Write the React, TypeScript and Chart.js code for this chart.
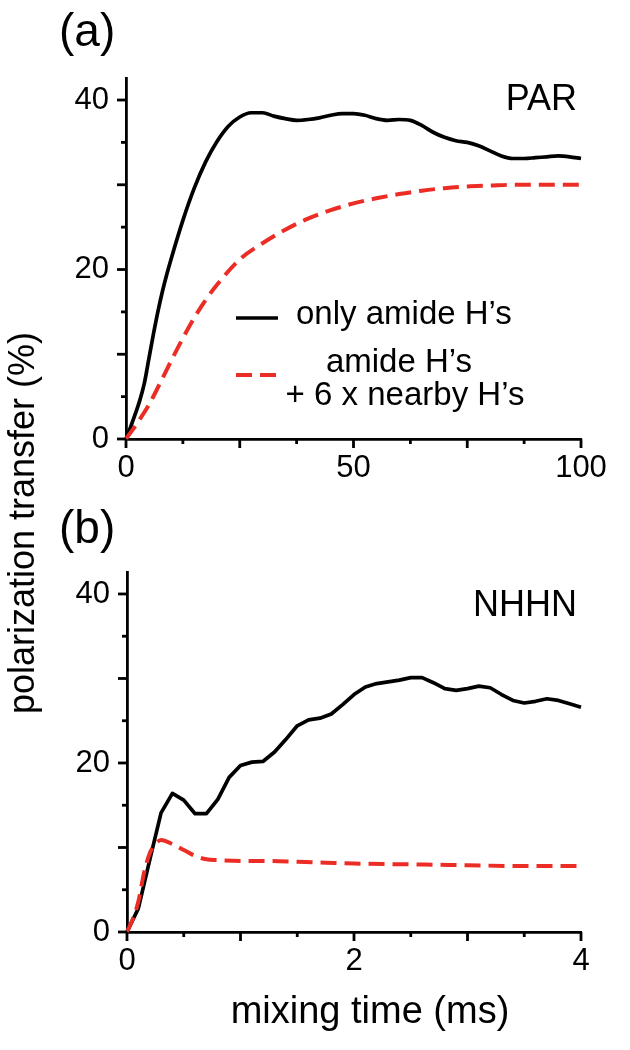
import React, { useEffect, useRef } from 'react';
import { Chart, registerables } from 'chart.js';

Chart.register(...registerables);

const FONT = "'Liberation Sans', Arial, Helvetica, sans-serif";
const RED = '#ec2d26';
const BLACK = '#000000';

// ---------- Panel (a): PAR ----------
const parTimeAmide = [0, 1, 2, 3, 4, 5, 6, 7, 8, 9, 10, 12.5, 15, 17.5, 20, 22.5, 25, 27.5, 30, 32.5, 35, 37.5, 40, 42.5, 45, 47.5, 50, 52.5, 55, 57.5, 60, 62.5, 65, 67.5, 70, 72.5, 75, 77.5, 80, 82.5, 85, 87.5, 90, 92.5, 95, 97.5, 100];
const parAmide = [0, 1.4, 2.9, 4.5, 6.5, 9.4, 12.3, 15.0, 17.4, 19.5, 21.4, 25.8, 29.6, 32.7, 35.1, 36.9, 38.0, 38.5, 38.5, 38.1, 37.8, 37.6, 37.7, 37.9, 38.2, 38.4, 38.4, 38.2, 37.8, 37.6, 37.7, 37.6, 37.0, 36.2, 35.6, 35.2, 35.0, 34.6, 34.0, 33.4, 33.1, 33.1, 33.2, 33.3, 33.4, 33.3, 33.1];
const parTimeNearby = [0, 2.5, 5, 7.5, 10, 12.5, 15, 17.5, 20, 25, 30, 35, 40, 45, 50, 55, 60, 65, 70, 75, 80, 85, 90, 95, 100];
const parNearby = [0, 1.9, 4.0, 6.6, 9.3, 11.9, 14.3, 16.4, 18.2, 21.2, 23.1, 24.7, 26.0, 27.0, 27.8, 28.4, 28.9, 29.3, 29.6, 29.8, 29.9, 30.0, 30.0, 30.0, 30.0];

// ---------- Panel (b): NHHN ----------
const nhhnTimeAmide = [0, 0.1, 0.2, 0.3, 0.4, 0.5, 0.6, 0.7, 0.8, 0.9, 1.0, 1.1, 1.2, 1.3, 1.4, 1.5, 1.6, 1.7, 1.8, 1.9, 2.0, 2.1, 2.2, 2.3, 2.4, 2.5, 2.6, 2.7, 2.8, 2.9, 3.0, 3.1, 3.2, 3.3, 3.4, 3.5, 3.6, 3.7, 3.8, 3.9, 4.0];
const nhhnAmide = [0, 2.8, 8.5, 14.1, 16.4, 15.6, 14.0, 14.0, 15.7, 18.3, 19.7, 20.1, 20.2, 21.3, 22.8, 24.4, 25.1, 25.3, 25.8, 26.9, 28.1, 29.0, 29.4, 29.6, 29.8, 30.1, 30.1, 29.5, 28.8, 28.6, 28.8, 29.1, 28.9, 28.1, 27.4, 27.1, 27.3, 27.6, 27.4, 27.0, 26.6];
const nhhnTimeNearby = [0, 0.05, 0.1, 0.15, 0.2, 0.25, 0.3, 0.4, 0.5, 0.6, 0.7, 0.8, 1.0, 1.25, 1.5, 1.75, 2.0, 2.5, 3.0, 3.5, 4.0];
const nhhnNearby = [0, 1.5, 3.6, 7.0, 9.3, 10.4, 10.9, 10.4, 9.7, 9.0, 8.6, 8.5, 8.4, 8.4, 8.3, 8.2, 8.1, 8.0, 7.9, 7.8, 7.8];

// ---------- Axes / ticks ----------
const yMax = 42.6;
const yStep = 5;
const yMajorStep = 10;
const yLabels = [0, 20, 40];
const parXMax = 100;
const parXStep = 12.5;
const parXMajorStep = 25;
const parXLabels = [0, 50, 100];
const nhhnXMax = 4;
const nhhnXStep = 0.5;
const nhhnXMajorStep = 1;
const nhhnXLabels = [0, 2, 4];

const legendAmide = 'only amide H\u2019s';
const legendNearby = ['amide H\u2019s', '+ 6 x nearby H\u2019s'];

const AXIS_W = 2.8;

const near = (v: number, step: number) => Math.abs(v / step - Math.round(v / step)) < 1e-6;
const inList = (v: number, list: number[]) => list.some((l) => Math.abs(l - v) < 1e-6);
const pts = (xs: number[], ys: number[]) => xs.map((x, i) => ({ x, y: ys[i] }));

type PanelCfg = {
  xMax: number;
  xStep: number;
  xMajor: number;
  xLabels: number[];
  amideX: number[];
  amideY: number[];
  nearbyX: number[];
  nearbyY: number[];
  tag: string;
  tagBaseline: number;
  padTop: number;
  canvasH: number;
  areaBottom: number;
  yAxisW: number;
  legend: boolean;
  nearbySmooth: boolean;
  amideSmooth: boolean;
};

function makeChart(canvas: HTMLCanvasElement, p: PanelCfg) {
  const ticksPlugin = {
    id: 'customTicks' + p.tag,
    afterDraw(chart: any) {
      const ctx = chart.ctx;
      const area = chart.chartArea;
      const xs = chart.scales.x;
      const ys = chart.scales.y;
      ctx.save();
      ctx.strokeStyle = BLACK;
      ctx.lineWidth = AXIS_W;
      ctx.lineCap = 'butt';
      ctx.setLineDash([]);
      for (const t of ys.ticks) {
        const py = ys.getPixelForValue(t.value);
        const len = near(t.value, yMajorStep) ? 9 : 5;
        ctx.beginPath();
        ctx.moveTo(area.left, py);
        ctx.lineTo(area.left - len, py);
        ctx.stroke();
      }
      for (const t of xs.ticks) {
        const px = xs.getPixelForValue(t.value);
        const len = near(t.value, p.xMajor) ? 9 : 5;
        ctx.beginPath();
        ctx.moveTo(px, area.bottom);
        ctx.lineTo(px, area.bottom + len);
        ctx.stroke();
      }
      ctx.fillStyle = BLACK;
      ctx.font = `36px ${FONT}`;
      ctx.textAlign = 'right';
      ctx.textBaseline = 'alphabetic';
      ctx.fillText(p.tag, area.right - 4, area.top + p.tagBaseline);

      if (p.legend) {
        const L = area.left;
        const T = area.top;
        const dsA = chart.data.datasets[1];
        const dsN = chart.data.datasets[0];
        ctx.lineWidth = dsA.borderWidth;
        ctx.strokeStyle = dsA.borderColor;
        ctx.beginPath();
        ctx.moveTo(L + 110, T + 240);
        ctx.lineTo(L + 152, T + 240);
        ctx.stroke();
        ctx.lineWidth = dsN.borderWidth;
        ctx.strokeStyle = dsN.borderColor;
        ctx.setLineDash(dsN.borderDash);
        ctx.beginPath();
        ctx.moveTo(L + 110, T + 297);
        ctx.lineTo(L + 151, T + 297);
        ctx.stroke();
        ctx.setLineDash([]);
        ctx.font = `33px ${FONT}`;
        ctx.fillStyle = BLACK;
        ctx.textAlign = 'left';
        ctx.fillText(legendAmide, L + 170, T + 246);
        ctx.textAlign = 'center';
        ctx.fillText(legendNearby[0], L + 273, T + 294);
        ctx.fillText(legendNearby[1], L + 279, T + 327);
      }
      ctx.restore();
    },
  };

  return new Chart(canvas, {
    type: 'line',
    data: {
      datasets: [
        {
          label: legendNearby.join(' '),
          data: pts(p.nearbyX, p.nearbyY),
          borderColor: RED,
          borderWidth: 4,
          borderDash: [16, 8],
          pointRadius: 0,
          fill: false,
          cubicInterpolationMode: p.nearbySmooth ? 'monotone' : 'default',
          tension: 0,
          clip: false,
        },
        {
          label: legendAmide,
          data: pts(p.amideX, p.amideY),
          borderColor: BLACK,
          borderWidth: 3.7,
          pointRadius: 0,
          fill: false,
          borderJoinStyle: 'round',
          cubicInterpolationMode: p.amideSmooth ? 'monotone' : 'default',
          tension: 0,
          clip: false,
        },
      ],
    } as any,
    options: {
      animation: false,
      responsive: false,
      devicePixelRatio: 1,
      events: [],
      layout: { padding: { top: p.padTop, right: 49, left: 0, bottom: 0 } },
      plugins: { legend: { display: false }, tooltip: { enabled: false } },
      scales: {
        x: {
          type: 'linear',
          min: 0,
          max: p.xMax,
          border: { display: true, color: BLACK, width: AXIS_W },
          grid: { display: true, drawOnChartArea: false, drawTicks: true, tickLength: 9, color: 'rgba(0,0,0,0)', tickColor: 'rgba(0,0,0,0)' },
          ticks: {
            stepSize: p.xStep,
            autoSkip: false,
            maxRotation: 0,
            includeBounds: false,
            padding: 2,
            color: BLACK,
            font: { family: FONT, size: 31 },
            callback: (v: any) => (inList(Number(v), p.xLabels) ? String(Number(v)) : ''),
          },
          afterFit: (s: any) => {
            s.height = p.canvasH - p.areaBottom;
          },
        },
        y: {
          type: 'linear',
          min: 0,
          max: yMax,
          border: { display: true, color: BLACK, width: AXIS_W },
          grid: { display: true, drawOnChartArea: false, drawTicks: true, tickLength: 9, color: 'rgba(0,0,0,0)', tickColor: 'rgba(0,0,0,0)' },
          ticks: {
            stepSize: yStep,
            autoSkip: false,
            includeBounds: false,
            padding: 8,
            color: BLACK,
            font: { family: FONT, size: 31 },
            callback: (v: any) => (inList(Number(v), yLabels) ? String(Number(v)) : ''),
          },
          afterFit: (s: any) => {
            s.width = p.yAxisW;
          },
        },
      },
    } as any,
    plugins: [ticksPlugin],
  });
}

export default function App() {
  const refA = useRef<HTMLCanvasElement>(null);
  const refB = useRef<HTMLCanvasElement>(null);

  useEffect(() => {
    const a = makeChart(refA.current!, {
      xMax: parXMax,
      xStep: parXStep,
      xMajor: parXMajorStep,
      xLabels: parXLabels,
      amideX: parTimeAmide,
      amideY: parAmide,
      nearbyX: parTimeNearby,
      nearbyY: parNearby,
      tag: 'PAR',
      tagBaseline: 32,
      padTop: 78,
      canvasH: 500,
      areaBottom: 439,
      yAxisW: 126,
      legend: true,
      nearbySmooth: true,
      amideSmooth: true,
    });
    const b = makeChart(refB.current!, {
      xMax: nhhnXMax,
      xStep: nhhnXStep,
      xMajor: nhhnXMajorStep,
      xLabels: nhhnXLabels,
      amideX: nhhnTimeAmide,
      amideY: nhhnAmide,
      nearbyX: nhhnTimeNearby,
      nearbyY: nhhnNearby,
      tag: 'NHHN',
      tagBaseline: 44,
      padTop: 72,
      canvasH: 550,
      areaBottom: 432,
      yAxisW: 127,
      legend: false,
      nearbySmooth: true,
      amideSmooth: false,
    });
    return () => {
      a.destroy();
      b.destroy();
    };
  }, []);

  const text: React.CSSProperties = { position: 'absolute', fontFamily: FONT, color: BLACK, lineHeight: 1, whiteSpace: 'nowrap' };

  return (
    <div style={{ position: 'absolute', left: 0, top: 0, width: 630, height: 1050, background: '#fff', overflow: 'hidden' }}>
      <canvas ref={refA} width={630} height={500} style={{ position: 'absolute', left: 0, top: 0, width: 630, height: 500 }} />
      <canvas ref={refB} width={630} height={550} style={{ position: 'absolute', left: 0, top: 500, width: 630, height: 550 }} />
      <div style={{ ...text, left: 59, top: 7, fontSize: 46 }}>(a)</div>
      <div style={{ ...text, left: 59, top: 504, fontSize: 46 }}>(b)</div>
      <div
        style={{
          ...text,
          left: 22 - 300,
          top: 523 - 18,
          width: 600,
          height: 36,
          fontSize: 36,
          lineHeight: '36px',
          textAlign: 'center',
          transform: 'rotate(-90deg)',
        }}
      >
        polarization transfer (%)
      </div>
      <div style={{ ...text, left: 370 - 200, top: 991, width: 400, fontSize: 38, textAlign: 'center' }}>mixing time (ms)</div>
    </div>
  );
}
